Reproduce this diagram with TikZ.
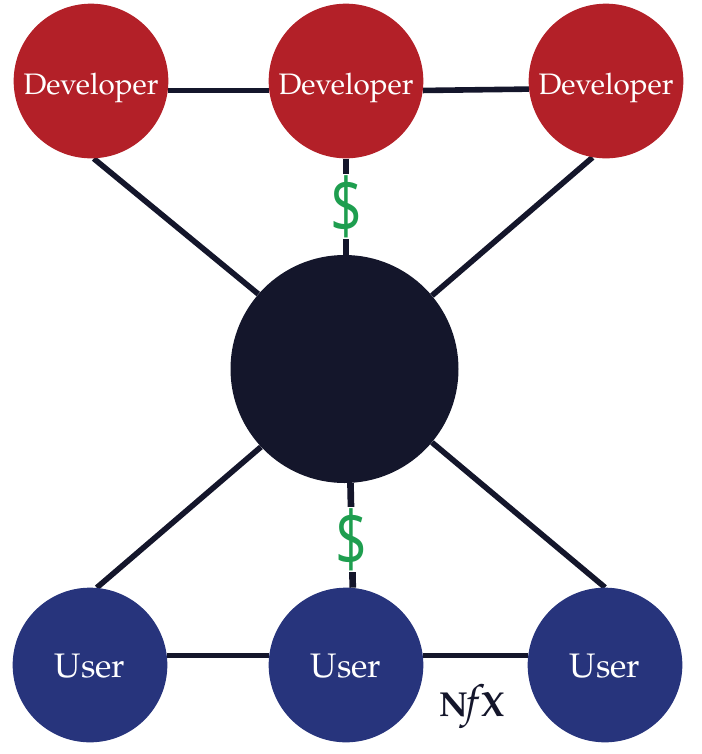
\documentclass[tikz,border=0pt]{standalone}
\usepackage{fontspec}
\usetikzlibrary{backgrounds}
\setmainfont{TeX Gyre Pagella}
\newfontfamily\dollarfont{Open Sans}
\definecolor{devred}{HTML}{B32028}
\definecolor{usrblue}{HTML}{27347C}
\definecolor{hubdark}{HTML}{14162B}
\definecolor{money}{HTML}{1E9E4F}
\tikzset{
 devnode/.style={circle,fill=devred,text=white,minimum size=116pt,inner sep=0pt,text height=19.5pt,text depth=0pt,font=\fontsize{22.2}{24}\selectfont},
 usernode/.style={circle,fill=usrblue,text=white,minimum size=116pt,inner sep=0pt,text height=19pt,text depth=0pt,font=\fontsize{25.5}{26}\selectfont},
 hubnode/.style={circle,fill=hubdark,minimum size=171pt,inner sep=0pt},
 link/.style={draw=hubdark,line width=4.2pt},
 paylink/.style={draw=hubdark,line width=5pt},
 dollar/.style={text=money,font=\dollarfont\fontsize{44}{50}\selectfont,inner sep=0pt,fill=white,minimum width=24pt,minimum height=49pt},
 logo/.style={text=hubdark,font=\bfseries\fontsize{26}{28}\selectfont,inner sep=0pt}
}
\begin{document}
\begin{tikzpicture}[x=0.75pt,y=-0.75pt]
\useasboundingbox (0,0) rectangle (701,754);
\node[hubnode] (hub) at (344.5,369) {};
\node[devnode] (d1) at (91,81) {Developer};
\node[devnode] (d2) at (346,81) {Developer};
\node[devnode] (d3) at (606,81) {Developer};
\node[usernode] (u1) at (90,665) {User};
\node[usernode] (u2) at (346,665) {User};
\node[usernode] (u3) at (605,665) {User};
\begin{scope}[on background layer]
\draw[link] (d1.-7) -- (d2.187);
\draw[link] (d2.-7) -- (d3.186);
\draw[link] (u1.7) -- (u2.173);
\draw[link] (u2.7) -- (u3.173);
\draw[link] (d1.272) -- (hub.139);
\draw[link] (d3.260) -- (hub.40);
\draw[link] (u1.85) -- (hub.223);
\draw[link] (u3.90) -- (hub.-40);
\draw[paylink] (d2.south) -- (hub.north -| d2.south) node[dollar,pos=0.5] (s1) {\scalebox{0.95}[1.3]{\$}};
\draw[paylink] (u2.85) -- (hub.-87) node[dollar,pos=0.46] (s2) {\scalebox{0.95}[1.3]{\$}};
\end{scope}
\node[logo] (nfx) at (472,706) {N\kern-1.5pt{\mdseries\fontsize{33}{33}\selectfont\textit{f}}\kern-2.5ptX};
\end{tikzpicture}
\end{document}
